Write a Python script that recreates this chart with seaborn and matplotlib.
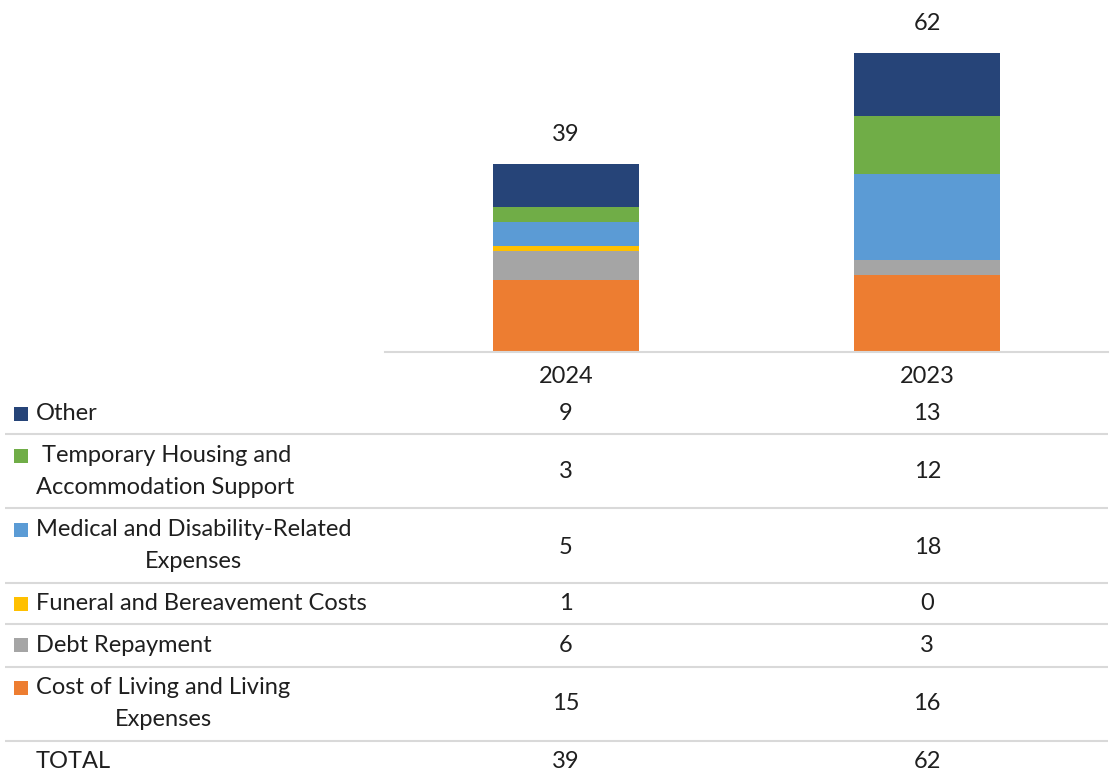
import matplotlib
matplotlib.use("Agg")
import matplotlib.pyplot as plt
import matplotlib.transforms as mtransforms
from matplotlib.patches import Rectangle
import numpy as np
import pandas as pd
import seaborn as sns

# ---- data ----
years = ["2024", "2023"]
categories = [  # bottom -> top stacking order
    "Cost of Living and Living Expenses",
    "Debt Repayment",
    "Funeral and Bereavement Costs",
    "Medical and Disability-Related Expenses",
    "Temporary Housing and Accommodation Support",
    "Other",
]
cost_of_living = [15, 16]
debt_repayment = [6, 3]
funeral = [1, 0]
medical = [5, 18]
temp_housing = [3, 12]
other = [9, 13]
totals = [39, 62]

colors = ["#ED7D31", "#A5A5A5", "#FFC000", "#5B9BD5", "#70AD47", "#264478"]

# table rows (top -> bottom): lines of legend text, values, text line centers, value center
table_rows = [
    (["Other"], other, [414], 414, "left", 5),
    ([" Temporary Housing and", "Accommodation Support"], temp_housing, [456, 488], 472, "left", 4),
    (["Medical and Disability-Related", "Expenses"], medical, [530, 562], 547, "center", 3),
    (["Funeral and Bereavement Costs"], funeral, [604], 604, "left", 2),
    (["Debt Repayment"], debt_repayment, [645], 645, "left", 1),
    (["Cost of Living and Living", "Expenses"], cost_of_living, [688, 720], 704, "center", 0),
]
sep_lines = [434, 508, 583, 624, 667, 741]

sns.set_theme(style="white")
plt.rcParams["font.family"] = ["Lato", "DejaVu Sans"]
TXT = "#1f1f1f"
FS = 17

W, H = 1112, 773
fig = plt.figure(figsize=(W / 100, H / 100), dpi=100)

# main chart axes: x 385..1108 px, y baseline 352 px, top 5 px
ax = fig.add_axes([385 / W, (H - 352) / H, (1108 - 385) / W, (352 - 5) / H])

layers = [cost_of_living, debt_repayment, funeral, medical, temp_housing, other]
cum = np.cumsum(np.array(layers), axis=0)
for i in range(len(layers) - 1, -1, -1):
    df = pd.DataFrame({"year": years, "value": cum[i]})
    sns.barplot(data=df, x="year", y="value", order=years, color=colors[i],
                width=0.404, saturation=1, ax=ax, edgecolor="none", linewidth=0)

ax.set_xlim(-0.5, 1.5)
ax.set_ylim(0, 347 / 4.82)
ax.set_xlabel("")
ax.set_ylabel("")
ax.set_yticks([])
for s in ["top", "right", "left"]:
    ax.spines[s].set_visible(False)
ax.spines["bottom"].set_color("#D9D9D9")
ax.spines["bottom"].set_linewidth(1.5)
ax.tick_params(axis="x", length=0, pad=10, labelsize=FS, labelcolor=TXT)

for xi, t in enumerate(totals):
    ax.annotate(str(t), (xi, t), xytext=(0, 30 * 0.72), textcoords="offset points",
                ha="center", va="center", fontsize=FS, color=TXT)

# overlay axes in pixel coords for the data table
ov = fig.add_axes([0, 0, 1, 1])
ov.set_xlim(0, W)
ov.set_ylim(H, 0)
ov.axis("off")
blend = mtransforms.blended_transform_factory(ax.transData, ov.transData)

for y in sep_lines:
    ov.plot([5, 1108], [y, y], color="#D9D9D9", lw=1.5, solid_capstyle="butt")

fig.canvas.draw()
renderer = fig.canvas.get_renderer()
inv = ov.transData.inverted()

for lines, vals, ys, yv, align, ci in table_rows:
    ov.add_patch(Rectangle((14, ys[0] - 7), 14, 14, color=colors[ci], lw=0))
    t0 = ov.text(36, ys[0], lines[0], ha="left", va="center", fontsize=FS, color=TXT)
    if len(lines) > 1:
        if align == "center":
            bb = t0.get_window_extent(renderer)
            x0 = inv.transform((bb.x0, 0))[0]
            x1 = inv.transform((bb.x1, 0))[0]
            ov.text((x0 + x1) / 2, ys[1], lines[1], ha="center", va="center",
                    fontsize=FS, color=TXT)
        else:
            ov.text(36, ys[1], lines[1], ha="left", va="center", fontsize=FS, color=TXT)
    for xi, v in enumerate(vals):
        ov.text(xi, yv, str(v), transform=blend, ha="center", va="center",
                fontsize=FS, color=TXT)

ov.text(36, 761, "TOTAL", ha="left", va="center", fontsize=FS, color=TXT)
for xi, v in enumerate(totals):
    ov.text(xi, 761, str(v), transform=blend, ha="center", va="center",
            fontsize=FS, color=TXT)

fig.savefig("out.png", dpi=100)
